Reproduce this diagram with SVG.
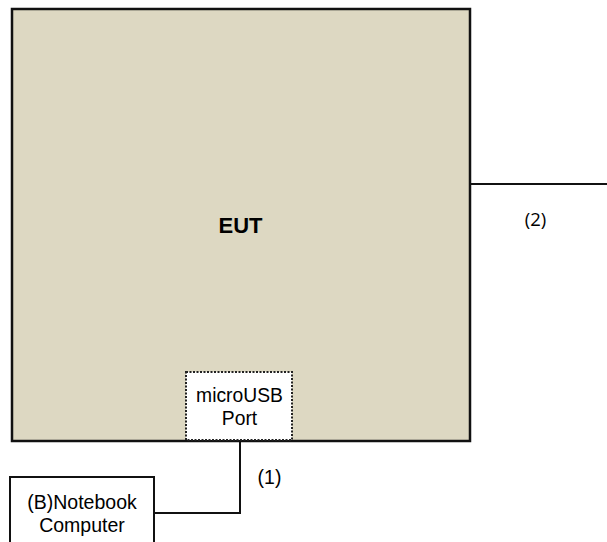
<svg xmlns="http://www.w3.org/2000/svg" width="607" height="542" viewBox="0 0 607 542">
<style>
.t{font-family:"Liberation Sans",Arial,sans-serif;fill:#000}
.ln{stroke:#111;stroke-width:2;fill:none}
</style>
<rect width="607" height="542" fill="#fff"/>
<g id="eut">
<rect x="12" y="9" width="458" height="432" fill="#DDD8C2" stroke="#111" stroke-width="2.5"/>
<text class="t" x="240.5" y="233" font-size="22" font-weight="bold" text-anchor="middle">EUT</text>
</g>
<g id="port">
<rect x="186" y="372" width="106" height="68" fill="#fff" stroke="#222" stroke-width="2" stroke-dasharray="2,1.5"/>
<text class="t" x="239.5" y="402" font-size="19.3" text-anchor="middle">microUSB</text>
<text class="t" x="239.5" y="425" font-size="19.3" text-anchor="middle">Port</text>
</g>
<g id="notebook">
<rect x="10" y="477" width="144" height="70" fill="#fff" stroke="#111" stroke-width="2"/>
<text class="t" x="82" y="509" font-size="19.5" text-anchor="middle">(B)Notebook</text>
<text class="t" x="82" y="532" font-size="19.5" text-anchor="middle">Computer</text>
</g>
<g id="connectors">
<polyline class="ln" points="240,441 240,513 154,513"/>
<line class="ln" x1="470" y1="184" x2="607" y2="184"/>
<text class="t" x="269.5" y="484" font-size="19.5" text-anchor="middle">(1)</text>
<text x="535.5" y="226" font-size="18.5" text-anchor="middle" style="font-family:'Open Sans','Liberation Sans',sans-serif" fill="#000">(2)</text>
</g>
</svg>
